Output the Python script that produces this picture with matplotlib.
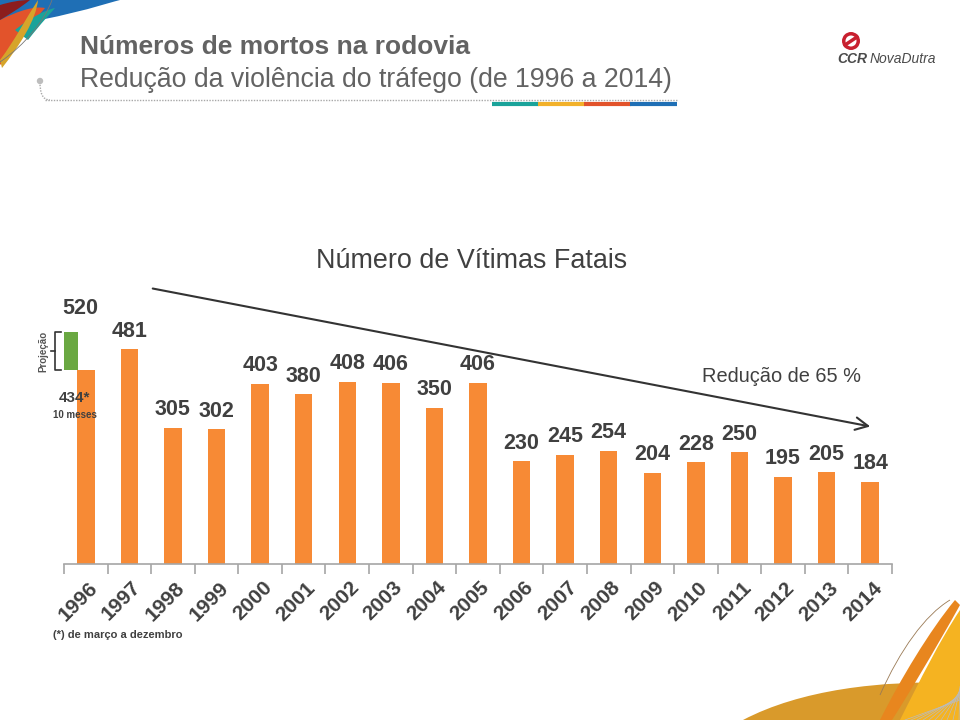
import matplotlib
matplotlib.use("Agg")
import matplotlib.pyplot as plt
import matplotlib.transforms as mtransforms
from matplotlib.patches import PathPatch, Circle
from matplotlib.path import Path
import numpy as np

plt.rcParams['font.family'] = ['Liberation Sans', 'DejaVu Sans']

# ---------------- data ----------------
years = ['1996', '1997', '1998', '1999', '2000', '2001', '2002', '2003', '2004', '2005',
         '2006', '2007', '2008', '2009', '2010', '2011', '2012', '2013', '2014']
deaths = [434, 481, 305, 302, 403, 380, 408, 406, 350, 406,
          230, 245, 254, 204, 228, 250, 195, 205, 184]
projection_1996 = 520
title = 'Número de Vítimas Fatais'
header_bold = 'Números de mortos na rodovia'
header_sub = 'Redução da violência do tráfego (de 1996 a 2014)'
reduction_text = 'Redução de 65 %'
footnote = '(*) de março a dezembro'

ORANGE = '#f78a35'
GREEN = '#6aa842'
TXT = '#404040'
HEAD = '#636363'

fig = plt.figure(figsize=(9.6, 7.2), dpi=100)
fig.patch.set_facecolor('white')

# overlay in pixel coordinates for decorations
deco = fig.add_axes([0, 0, 1, 1], zorder=0)
deco.set_xlim(0, 960)
deco.set_ylim(720, 0)
deco.axis('off')

def bez(points, codes, **kw):
    deco.add_patch(PathPatch(Path(points, codes), **kw))

C4 = Path.CURVE4
M, L, Z = Path.MOVETO, Path.LINETO, Path.CLOSEPOLY

# top-left swooshes
bez([(0, 0), (120, 0), (120, 0), (118, 0), (90, 10), (40, 20), (0, 40), (0, 0)],
    [M, L, L, C4, C4, C4, L, Z], facecolor='#1f6fb5', edgecolor='none')
bez([(0, 20), (20, 10), (35, 6), (45, 8), (30, 25), (15, 50), (0, 65), (0, 20)],
    [M, C4, C4, C4, C4, C4, C4, Z], facecolor='#e2532b', edgecolor='none')
bez([(0, 5), (10, 2), (20, 0), (30, 0), (20, 8), (10, 14), (0, 20), (0, 5)],
    [M, C4, C4, C4, C4, C4, C4, Z], facecolor='#8c1d1d', edgecolor='none')
bez([(15, 30), (30, 18), (45, 10), (55, 8), (50, 14), (42, 22), (28, 40), (15, 30)],
    [M, C4, C4, C4, C4, C4, C4, Z], facecolor='#1aa39a', edgecolor='none')
bez([(0, 60), (15, 40), (25, 20), (38, 0), (36, 20), (20, 45), (2, 68), (0, 60)],
    [M, C4, C4, C4, C4, C4, C4, Z], facecolor='#d6a42a', edgecolor='none')
bez([(0, 62), (25, 45), (45, 20), (52, 0)], [M, C4, C4, C4],
    facecolor='none', edgecolor='#777777', lw=0.6)

# bottom-right swooshes
bez([(743, 720), (800, 690), (880, 680), (960, 683), (960, 720), (743, 720)],
    [M, C4, C4, C4, L, Z], facecolor='#d99a2b', edgecolor='none')
bez([(900, 720), (920, 680), (940, 640), (960, 610), (960, 720), (900, 720)],
    [M, C4, C4, C4, L, Z], facecolor='#f5b321', edgecolor='none')
bez([(880, 720), (900, 680), (930, 630), (955, 600), (960, 605), (935, 650), (905, 700), (892, 720), (880, 720)],
    [M, C4, C4, C4, L, C4, C4, C4, Z], facecolor='#e8861e', edgecolor='none')
bez([(880, 695), (900, 650), (925, 615), (950, 600)], [M, C4, C4, C4],
    facecolor='none', edgecolor='#9a7a55', lw=0.6)
for k in range(10):
    deco.plot([905 + k * 6, 960], [720, 700 - k * 1.5], color='#bbbbbb', lw=0.5)

# header
deco.text(80, 47, header_bold, fontsize=19, fontweight='bold', color=HEAD,
          ha='left', va='center')
deco.text(80, 80, header_sub, fontsize=19.2, color=HEAD, ha='left', va='center')
deco.plot([45, 678], [100, 100], color='#a8a8a8', lw=1, ls=(0, (1, 1)))
bez([(40, 82), (40, 92), (42, 100), (50, 100)], [M, C4, C4, C4],
    facecolor='none', edgecolor='#a8a8a8', lw=1, ls=(0, (1, 1)))
deco.add_patch(Circle((40, 81), 3.2, facecolor='#bdbdbd', edgecolor='none'))
for x0, col in zip([492, 538, 584, 630], ['#1aa39a', '#f2b12a', '#e2532b', '#1f6fb5']):
    deco.plot([x0, x0 + 47], [104, 104], color=col, lw=3, solid_capstyle='butt')

# logo
deco.add_patch(Circle((851, 41), 9, facecolor='#c8202f', edgecolor='none'))
deco.add_patch(Circle((851, 41), 5.5, facecolor='white', edgecolor='none'))
deco.plot([845, 857], [45, 37], color='#c8202f', lw=2.5)
deco.text(837, 59, 'CCR', fontsize=10, fontweight='bold', fontstyle='italic',
          color='#4a4a4a', ha='left', va='center')
deco.text(870, 59, 'NovaDutra', fontsize=10, fontstyle='italic',
          color='#4a4a4a', ha='left', va='center')

# chart title and annotations
deco.text(472, 261, title, fontsize=19.4, color=TXT, ha='center', va='center')
deco.annotate('', xy=(873, 427), xytext=(150, 288),
              arrowprops=dict(arrowstyle='->,head_length=0.9,head_width=0.45',
                              color='#333333', lw=1.5))
deco.text(782, 376, reduction_text, fontsize=14.4, color=TXT, ha='center', va='center')
deco.text(53, 635, footnote, fontsize=8, fontweight='bold', color=TXT,
          ha='left', va='center')

# ---------------- chart ----------------
ax = fig.add_axes([64 / 960, 1 - 564 / 720, 828 / 960, 268 / 720], zorder=2)
ax.patch.set_alpha(0)
x = np.arange(len(years))
ax.bar(x, deaths, width=0.4, color=ORANGE, zorder=2)
ax.bar(-0.38, projection_1996 - deaths[0], bottom=deaths[0], width=0.4,
       color=GREEN, zorder=2)
ax.set_xlim(-0.5, len(years) - 0.5)
ax.set_ylim(0, 600)

for s in ['top', 'right', 'left']:
    ax.spines[s].set_visible(False)
ax.spines['bottom'].set_color('#a6a6a6')
ax.spines['bottom'].set_linewidth(1.2)
ax.set_yticks([])
ax.set_xticks(np.arange(len(years) + 1) - 0.5)
ax.set_xticklabels([])
ax.tick_params(axis='x', length=7, color='#a6a6a6', width=1.2, direction='out')

# value labels
for i, v in enumerate(deaths):
    if i == 0:
        continue
    ax.annotate(str(v), (i, v), xytext=(0, 13), textcoords='offset points',
                ha='center', va='center', fontsize=15.5, fontweight='bold', color=TXT)

ax.annotate(f'{deaths[0]}*', (0, deaths[0]), xytext=(-8, -20), textcoords='offset points',
            ha='center', va='center', fontsize=11, fontweight='bold', color=TXT)
ax.annotate('10 meses', (0, deaths[0]), xytext=(-8, -32), textcoords='offset points',
            ha='center', va='center', fontsize=7, fontweight='bold', color=TXT)
ax.annotate(str(projection_1996), (-0.12, projection_1996), xytext=(0, 17),
            textcoords='offset points', ha='center', va='center',
            fontsize=15.5, fontweight='bold', color=TXT)

# bracket for projection
bx0, bx1 = -0.71, -0.575
ax.plot([bx1, bx0, bx0, bx1], [projection_1996, projection_1996, deaths[0], deaths[0]],
        color='#333333', lw=1.2, clip_on=False)
mid = (projection_1996 + deaths[0]) / 2
ax.plot([bx0, bx0 - 0.08], [mid, mid], color='#333333', lw=1.2, clip_on=False)
ax.text(bx0 - 0.27, mid, 'Projeção', rotation=90, fontsize=7, fontweight='bold',
        color='#555555', ha='center', va='center', clip_on=False)

# year labels
offset = mtransforms.ScaledTranslation(2 / 100, -14 / 100, fig.dpi_scale_trans)
trans = mtransforms.blended_transform_factory(ax.transData, ax.transAxes) + offset
for i, yr in enumerate(years):
    ax.text(i, 0, yr, transform=trans, rotation=45, rotation_mode='anchor',
            ha='right', va='top', fontsize=15, fontweight='bold', color=TXT)

fig.savefig('out.png', dpi=100, facecolor='white')
